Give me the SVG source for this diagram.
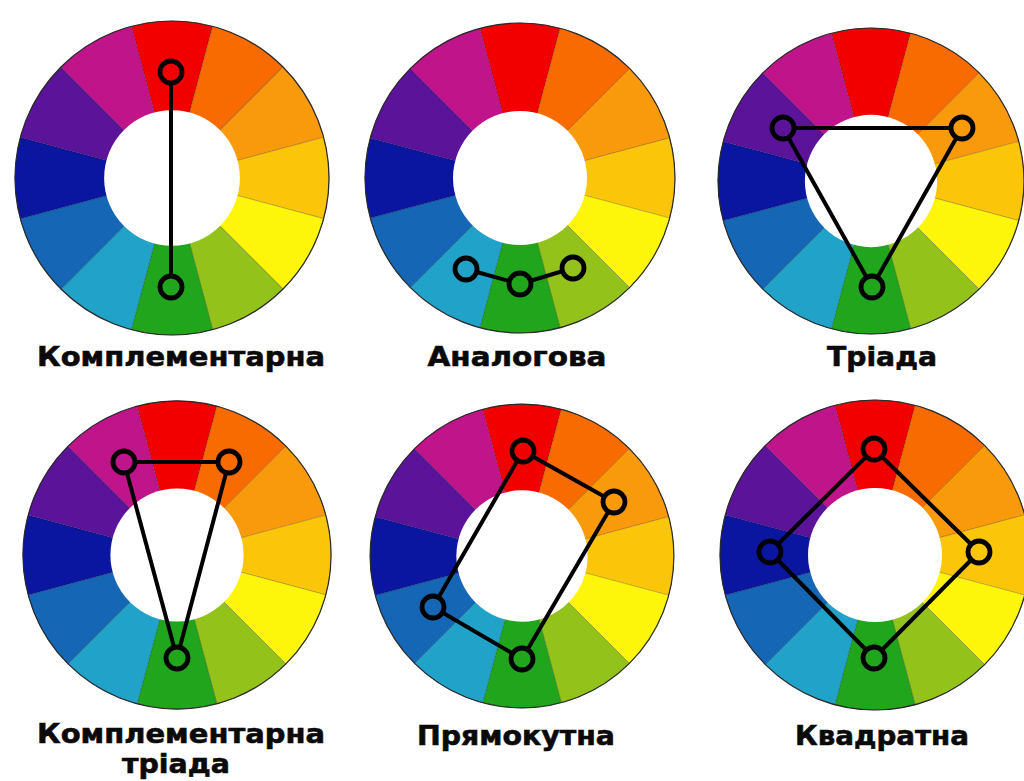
<svg xmlns="http://www.w3.org/2000/svg" xmlns:xlink="http://www.w3.org/1999/xlink" width="1024" height="781" viewBox="0 0 1024 781">
<style>
.lbl{font-family:"DejaVu Sans","Liberation Sans",sans-serif;font-weight:bold;font-size:27px;fill:#0a0a0a;stroke:#0a0a0a;stroke-width:0.6;text-anchor:middle}
.link{fill:none;stroke:#000;stroke-width:4;stroke-linejoin:round}
.mk{stroke:#000;stroke-width:4.8}
.seg{stroke:#000;stroke-opacity:0.18;stroke-width:1}
</style>
<defs>
<g id="wheel">
<path class="seg" fill="#f20000" d="M0 0 L-40.12 -149.72 A155 155 0 0 1 40.12 -149.72 Z"/>
<path class="seg" fill="#f76b00" d="M0 0 L40.12 -149.72 A155 155 0 0 1 109.6 -109.6 Z"/>
<path class="seg" fill="#f99a0d" d="M0 0 L109.6 -109.6 A155 155 0 0 1 149.72 -40.12 Z"/>
<path class="seg" fill="#fbc50a" d="M0 0 L149.72 -40.12 A155 155 0 0 1 149.72 40.12 Z"/>
<path class="seg" fill="#fdf60a" d="M0 0 L149.72 40.12 A155 155 0 0 1 109.6 109.6 Z"/>
<path class="seg" fill="#93c21b" d="M0 0 L109.6 109.6 A155 155 0 0 1 40.12 149.72 Z"/>
<path class="seg" fill="#20a51c" d="M0 0 L40.12 149.72 A155 155 0 0 1 -40.12 149.72 Z"/>
<path class="seg" fill="#21a2c8" d="M0 0 L-40.12 149.72 A155 155 0 0 1 -109.6 109.6 Z"/>
<path class="seg" fill="#1567b6" d="M0 0 L-109.6 109.6 A155 155 0 0 1 -149.72 40.12 Z"/>
<path class="seg" fill="#0a16a0" d="M0 0 L-149.72 40.12 A155 155 0 0 1 -149.72 -40.12 Z"/>
<path class="seg" fill="#5a1399" d="M0 0 L-149.72 -40.12 A155 155 0 0 1 -109.6 -109.6 Z"/>
<path class="seg" fill="#c0148a" d="M0 0 L-109.6 -109.6 A155 155 0 0 1 -40.12 -149.72 Z"/>
<circle r="67" fill="#fff"/>
<circle r="155" fill="none" stroke="#2a2a2a" stroke-width="1.2"/>
</g>
</defs>
<rect width="1024" height="781" fill="#fff"/>

<g id="wheel-complementary">
<use xlink:href="#wheel" href="#wheel" transform="translate(172 178) scale(1.013)"/>
<text class="lbl" x="181" y="366" textLength="288" lengthAdjust="spacingAndGlyphs">Комплементарна</text>
</g>
<g id="wheel-analogous">
<use xlink:href="#wheel" href="#wheel" transform="translate(520 178)"/>
<text class="lbl" x="517" y="366" textLength="179" lengthAdjust="spacingAndGlyphs">Аналогова</text>
</g>
<g id="wheel-triad">
<use xlink:href="#wheel" href="#wheel" transform="translate(871 181) scale(0.987)"/>
<text class="lbl" x="882" y="366" textLength="110" lengthAdjust="spacingAndGlyphs">Тріада</text>
</g>
<g id="wheel-split">
<use xlink:href="#wheel" href="#wheel" transform="translate(177 555) scale(0.994)"/>
<text class="lbl" x="181" y="743" textLength="288" lengthAdjust="spacingAndGlyphs">Комплементарна</text>
<text class="lbl" x="176" y="773" textLength="108" lengthAdjust="spacingAndGlyphs">тріада</text>
</g>
<g id="wheel-rectangle">
<use xlink:href="#wheel" href="#wheel" transform="translate(522 556) scale(0.98)"/>
<text class="lbl" x="516" y="745" textLength="198" lengthAdjust="spacingAndGlyphs">Прямокутна</text>
</g>
<g id="wheel-square">
<use xlink:href="#wheel" href="#wheel" transform="translate(875 555)"/>
<text class="lbl" x="882" y="745" textLength="174" lengthAdjust="spacingAndGlyphs">Квадратна</text>
</g>

<g id="connectors">
<line class="link" x1="171" y1="72" x2="171" y2="287"/>
<polyline class="link" points="466,269 520,284 573,268"/>
<polygon class="link" points="783,128 962,128 872,287"/>
<polygon class="link" points="124,462 229,462 177,658"/>
<polygon class="link" points="523,451 614,502 522,659 433,607"/>
<polygon class="link" points="874,449 979,552 874,658 770,552"/>
</g>

<g id="markers">
<circle class="mk" cx="171" cy="72" r="11" fill="#f20000"/>
<circle class="mk" cx="171" cy="287" r="11" fill="#20a51c"/>
<circle class="mk" cx="466" cy="269" r="11" fill="#21a2c8"/>
<circle class="mk" cx="520" cy="284" r="11" fill="#20a51c"/>
<circle class="mk" cx="573" cy="268" r="11" fill="#93c21b"/>
<circle class="mk" cx="783" cy="128" r="11" fill="#5a1399"/>
<circle class="mk" cx="962" cy="128" r="11" fill="#f99a0d"/>
<circle class="mk" cx="872" cy="287" r="11" fill="#20a51c"/>
<circle class="mk" cx="124" cy="462" r="11" fill="#c0148a"/>
<circle class="mk" cx="229" cy="462" r="11" fill="#f76b00"/>
<circle class="mk" cx="177" cy="658" r="11" fill="#20a51c"/>
<circle class="mk" cx="523" cy="451" r="11" fill="#f20000"/>
<circle class="mk" cx="614" cy="502" r="11" fill="#f99a0d"/>
<circle class="mk" cx="522" cy="659" r="11" fill="#20a51c"/>
<circle class="mk" cx="433" cy="607" r="11" fill="#1567b6"/>
<circle class="mk" cx="874" cy="449" r="11" fill="#f20000"/>
<circle class="mk" cx="979" cy="552" r="11" fill="#fbc50a"/>
<circle class="mk" cx="874" cy="658" r="11" fill="#20a51c"/>
<circle class="mk" cx="770" cy="552" r="11" fill="#0a16a0"/>
</g>
</svg>
